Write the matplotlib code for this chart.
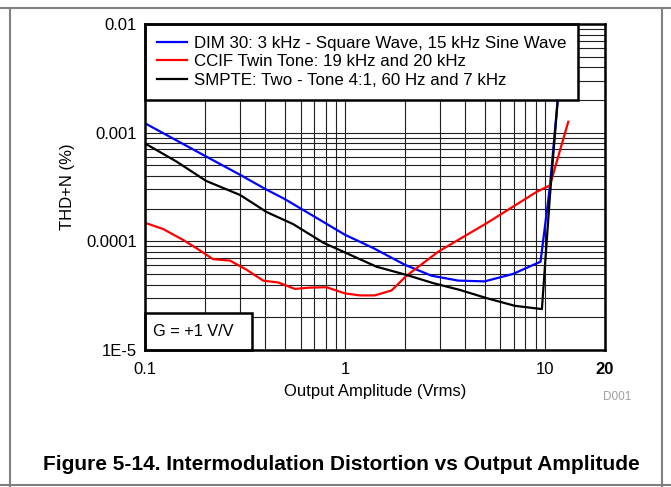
import matplotlib
matplotlib.use("Agg")
import matplotlib.pyplot as plt
from matplotlib.lines import Line2D
from matplotlib.patches import Rectangle
from matplotlib.ticker import FixedLocator, NullFormatter, LogLocator

plt.rcParams['font.family'] = ['Liberation Sans', 'DejaVu Sans']

# ---- data ----
dim_x = [0.1, 0.2, 0.3, 0.4, 0.5, 1.0, 1.39, 2.0, 2.71, 3.69, 5.0, 6.93, 9.52, 10.6, 11.6, 12.7]
dim_y = [1.22e-3, 6.1e-4, 4.08e-4, 3.03e-4, 2.45e-4, 1.15e-4, 8.65e-5, 6.07e-5, 4.83e-5,
         4.35e-5, 4.28e-5, 5.01e-5, 6.5e-5, 3.18e-4, 2.0e-3, 1.0e-2]

ccif_x = [0.1, 0.123, 0.155, 0.181, 0.219, 0.266, 0.323, 0.39, 0.464, 0.562, 0.668, 0.81,
          1.0, 1.19, 1.41, 1.71, 2.03, 2.93, 5.12, 9.12, 10.6, 13.1]
ccif_y = [1.48e-4, 1.30e-4, 1.03e-4, 8.64e-5, 6.85e-5, 6.65e-5, 5.46e-5, 4.35e-5, 4.18e-5,
          3.65e-5, 3.75e-5, 3.78e-5, 3.32e-5, 3.18e-5, 3.18e-5, 3.53e-5, 4.81e-5, 8.03e-5,
          1.47e-4, 2.86e-4, 3.27e-4, 1.26e-3]

smpte_x = [0.1, 0.144, 0.202, 0.299, 0.406, 0.551, 0.779, 1.02, 1.44, 2.03, 2.77, 3.76,
           5.12, 7.08, 9.67, 10.6, 11.6, 12.7]
smpte_y = [7.96e-4, 5.41e-4, 3.6e-4, 2.67e-4, 1.86e-4, 1.44e-4, 9.72e-5, 7.77e-5, 5.84e-5,
           4.91e-5, 4.12e-5, 3.57e-5, 3.0e-5, 2.55e-5, 2.38e-5, 2.58e-4, 2.0e-3, 1.0e-2]

series_labels = ["DIM 30: 3 kHz - Square Wave, 15 kHz Sine Wave",
                 "CCIF Twin Tone: 19 kHz and 20 kHz",
                 "SMPTE: Two - Tone 4:1, 60 Hz and 7 kHz"]
series_colors = ["#0000ff", "#ff0000", "#000000"]

x_ticks = [0.1, 1, 10, 20]
x_tick_labels = ["0.1", "1", "10", "20"]
y_ticks = [1e-5, 1e-4, 1e-3, 1e-2]
y_tick_labels = ["1E-5", "0.0001", "0.001", "0.01"]

# ---- figure ----
W, H = 671, 487
fig = plt.figure(figsize=(W / 100, H / 100), dpi=100)
ax = fig.add_axes([145 / W, 1 - 350 / H, (605 - 145) / W, (350 - 24) / H])

ax.set_xscale('log')
ax.set_yscale('log')
ax.set_xlim(0.1, 20)
ax.set_ylim(1e-5, 1e-2)

# grid
ax.xaxis.set_major_locator(FixedLocator(x_ticks))
ax.xaxis.set_minor_locator(FixedLocator([0.2, 0.3, 0.4, 0.5, 0.6, 0.7, 0.8, 0.9,
                                         2, 3, 4, 5, 6, 7, 8, 9]))
ax.yaxis.set_major_locator(FixedLocator(y_ticks))
ax.yaxis.set_minor_locator(LogLocator(base=10, subs=range(2, 10)))
ax.xaxis.set_minor_formatter(NullFormatter())
ax.yaxis.set_minor_formatter(NullFormatter())
ax.set_xticklabels(x_tick_labels)
ax.set_yticklabels(y_tick_labels)
ax.grid(True, which='both', color='#202020', linewidth=0.8)
ax.set_axisbelow(True)
ax.tick_params(axis='x', which='both', length=0, labelsize=12, pad=9)
ax.tick_params(axis='y', which='both', length=0, labelsize=12, pad=6)
ax.get_xticklabels()[-1].set_fontweight('bold')

for s in ax.spines.values():
    s.set_linewidth(1.8)
    s.set_zorder(7)

lines = []
for xs, ys, c, lab in [(dim_x, dim_y, series_colors[0], series_labels[0]),
                       (ccif_x, ccif_y, series_colors[1], series_labels[1]),
                       (smpte_x, smpte_y, series_colors[2], series_labels[2])]:
    l, = ax.plot(xs, ys, color=c, linewidth=1.6, label=lab, zorder=3)
    lines.append(l)

leg = ax.legend(handles=lines, loc='upper left', bbox_to_anchor=(0, 1),
                borderaxespad=0, fancybox=False, framealpha=1, edgecolor='black',
                fontsize=12.2, handlelength=1.75, handletextpad=0.45,
                labelspacing=0.21, borderpad=0.7)
leg.get_frame().set_linewidth(1.8)
leg.set_zorder(5)

# gain box in the lower-left corner
box_w = (252 - 145) / 460
box_h = (350 - 313) / 326
ax.add_patch(Rectangle((0, 0), box_w, box_h, transform=ax.transAxes,
                       facecolor='white', edgecolor='black', linewidth=1.8,
                       zorder=6, clip_on=False))
ax.text((153 - 145) / 460, box_h / 2, "G = +1 V/V", transform=ax.transAxes,
        fontsize=11.8, ha='left', va='center', zorder=6.5)

ax.set_xlabel("Output Amplitude (Vrms)", fontsize=12, labelpad=5)
ax.set_ylabel("THD+N (%)", fontsize=12, labelpad=8)

fig.text(617 / W, 1 - 397 / H, "D001", color='#a0a0a0', fontsize=8.5,
         ha='center', va='center')
fig.text(341 / W, 1 - 464 / H,
         "Figure 5-14. Intermodulation Distortion vs Output Amplitude",
         fontsize=15, fontweight='bold', ha='center', va='center')

# frame lines
gray = '#808080'
fig.add_artist(Line2D([0, 1], [1 - 7.5 / H, 1 - 7.5 / H], transform=fig.transFigure,
                      color=gray, linewidth=1.5))
fig.add_artist(Line2D([0, 1], [1 - 484.5 / H, 1 - 484.5 / H], transform=fig.transFigure,
                      color=gray, linewidth=1.5))
fig.add_artist(Line2D([9.5 / W, 9.5 / W], [1 - 7.5 / H, 0], transform=fig.transFigure,
                      color=gray, linewidth=1.5))
fig.add_artist(Line2D([662 / W, 662 / W], [1 - 7.5 / H, 0], transform=fig.transFigure,
                      color=gray, linewidth=1.5))

fig.savefig("out.png", dpi=100)
